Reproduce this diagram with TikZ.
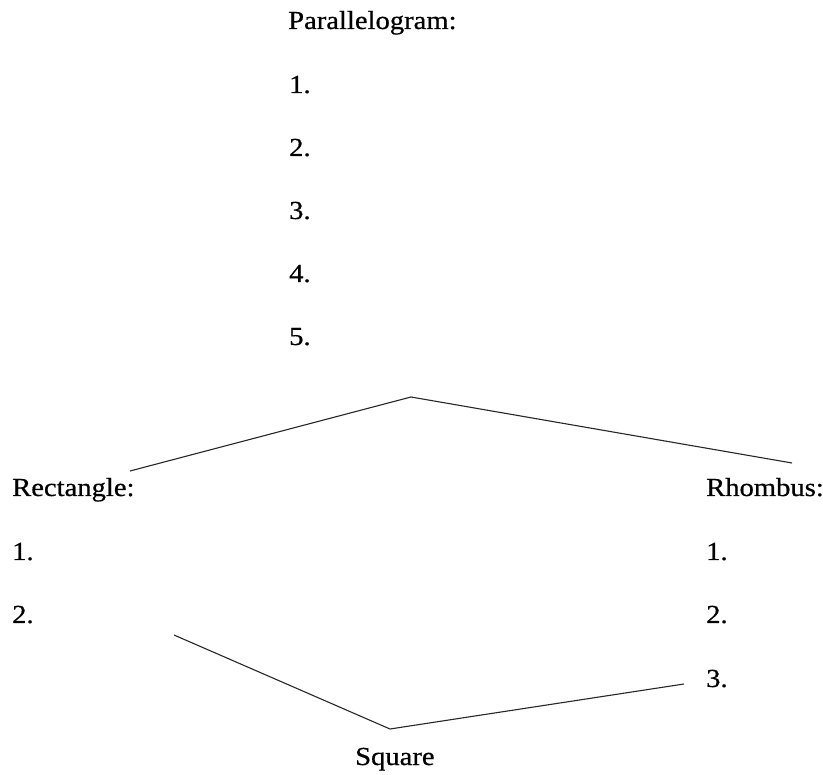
\documentclass[tikz,border=0pt]{standalone}
\usepackage{fontspec}
\setmainfont[FakeStretch=1.1,FakeBold=0.6]{Liberation Serif}

\begin{document}
\begin{tikzpicture}[x=1pt,y=-1pt,
  lbl/.style={anchor=base west, inner sep=0pt, font=\fontsize{26}{30}\selectfont},
  branch/.style={line width=1.1pt, draw=black!85}]
  \useasboundingbox (0,0) rectangle (823,775);
  \node[lbl] (par) at (288,29) {Parallelogram:};
  \foreach \i/\y in {1/93,2/156,3/219,4/282,5/345}
    \node[lbl] (par\i) at (289,\y) {\i.};
  \node[lbl] (rect) at (12,496) {Rectangle:};
  \foreach \i/\y in {1/560,2/623}
    \node[lbl] (rect\i) at (12,\y) {\i.};
  \node[lbl] (rhom) at (706,496) {Rhombus:};
  \foreach \i/\y in {1/560,2/623,3/687}
    \node[lbl] (rhom\i) at (706,\y) {\i.};
  \node[lbl] (sq) at (355,765) {Square};
  % branches
  \coordinate (top) at (411,397);
  \coordinate (topl) at (130,471);
  \coordinate (topr) at (792,463);
  \coordinate (bot) at (390,729);
  \coordinate (botl) at (174,635);
  \coordinate (botr) at (684,684);
  \draw[branch] (topl) -- (top) -- (topr);
  \draw[branch] (botl) -- (bot) -- (botr);
\end{tikzpicture}
\end{document}
